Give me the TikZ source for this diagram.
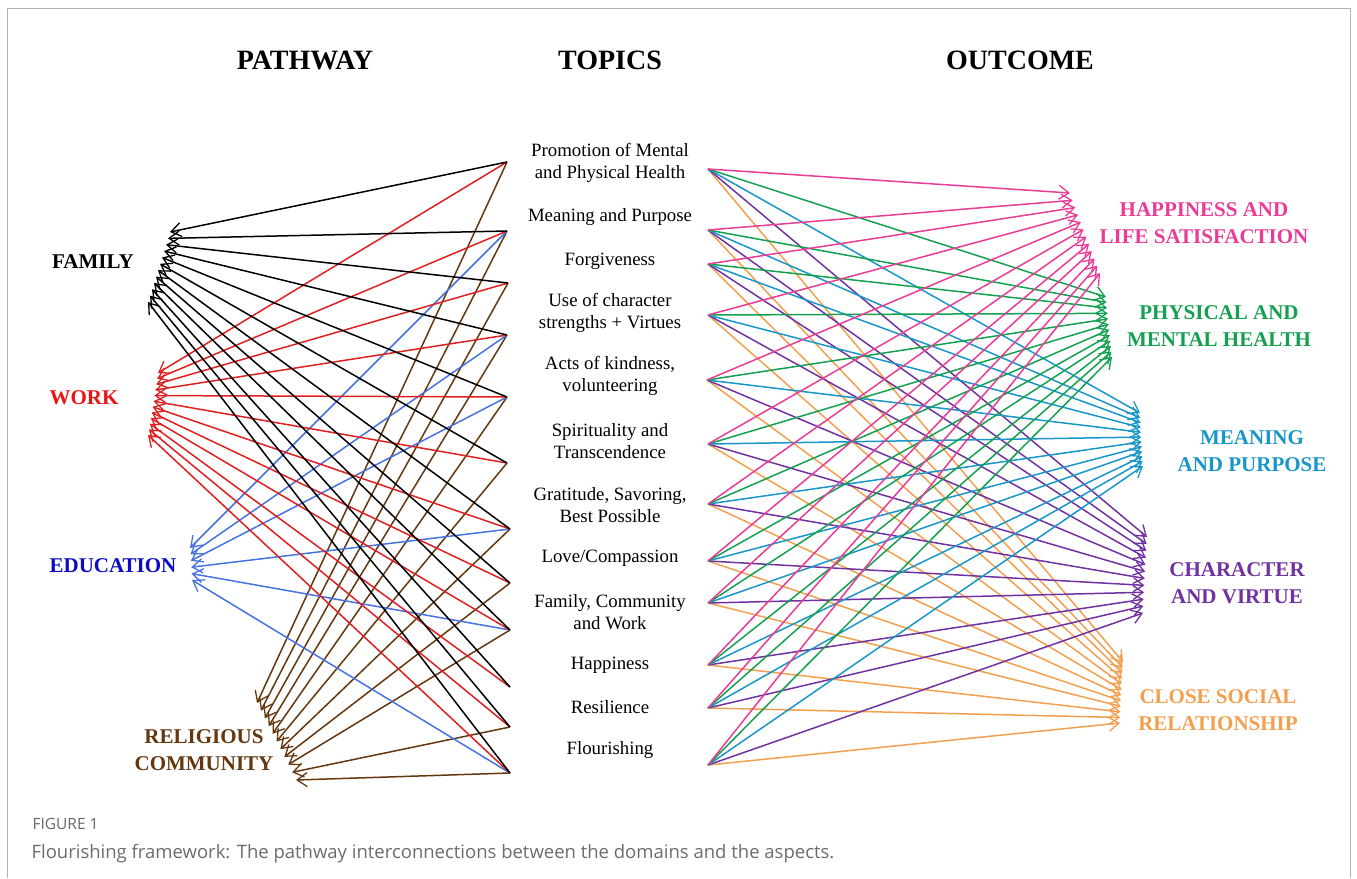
\documentclass[tikz,border=0pt]{standalone}
\usepackage{fontspec}
\setmainfont{Liberation Serif}
\newfontfamily\capfont{Open Sans}
\usetikzlibrary{arrows.meta}
\definecolor{cred}{RGB}{222,32,32}
\definecolor{cblue}{RGB}{70,115,225}
\definecolor{cbrown}{RGB}{100,55,15}
\definecolor{cpink}{RGB}{232,60,150}
\definecolor{cgreen}{RGB}{20,160,80}
\definecolor{cteal}{RGB}{25,150,200}
\definecolor{cpurple}{RGB}{112,50,160}
\definecolor{corange}{RGB}{242,160,80}
\definecolor{ledu}{RGB}{10,10,200}
\definecolor{lred}{RGB}{235,20,20}
\tikzset{
  arr/.style={line width=1.5pt,-{Straight Barb[length=10pt,width=14pt,line width=1.3pt]}},
  titlebox/.style={font=\fontsize{28}{32}\selectfont\bfseries},
  topic/.style={font=\fontsize{18.8}{22.5}\selectfont, align=center},
  lab/.style={font=\fontsize{21}{27}\selectfont\bfseries, align=center},
}
\begin{document}
\begin{tikzpicture}[x=1pt,y=-1pt]
\useasboundingbox (0,0) rectangle (1357,878);
\draw[gray!60, line width=1pt] (7,878) -- (7,8) -- (1350,8) -- (1350,878);

% titles
\node[titlebox] (hp) at (305,60) {PATHWAY};
\node[titlebox] (ht) at (610,60) {TOPICS};
\node[titlebox] (ho) at (1020,60) {OUTCOME};

% topics
\node[topic] (t1) at (610,163) {Promotion of Mental\\and Physical Health};
\node[topic] (t2) at (610,217) {Meaning and Purpose};
\node[topic] (t3) at (610,261) {Forgiveness};
\node[topic] (t4) at (610,313) {Use of character\\strengths + Virtues};
\node[topic] (t5) at (610,376) {Acts of kindness,\\volunteering};
\node[topic] (t6) at (610,441) {Spirituality and\\Transcendence};
\node[topic] (t7) at (610,505) {Gratitude, Savoring,\\Best Possible};
\node[topic] (t8) at (610,558) {Love/Compassion};
\node[topic] (t9) at (610,612) {Family, Community\\and Work};
\node[topic] (t10) at (610,665) {Happiness};
\node[topic] (t11) at (610,707) {Resilience};
\node[topic] (t12) at (610,750) {Flourishing};

% pathway labels
\node[lab] (fam) at (93,262) {FAMILY};
\node[lab, text=lred] (work) at (84,398) {WORK};
\node[lab, text=ledu] (edu) at (113,566) {EDUCATION};
\node[lab, text=cbrown] (rel) at (204,750) {RELIGIOUS\\COMMUNITY};

% outcome labels
\node[lab, text=cpink] (hap) at (1204,223) {HAPPINESS AND\\LIFE SATISFACTION};
\node[lab, text=cgreen] (phy) at (1219,326) {PHYSICAL AND\\MENTAL HEALTH};
\node[lab, text=cteal] (mea) at (1252,451) {MEANING\\AND PURPOSE};
\node[lab, text=cpurple] (cha) at (1237,583) {CHARACTER\\AND VIRTUE};
\node[lab, text=corange] (clo) at (1218,710) {CLOSE SOCIAL\\RELATIONSHIP};

% source points
\foreach \i/\x/\y in {1/507/162,2/507/231,3/508/283,4/507/335,5/507/397,6/507/463,7/510/529,8/510/583,9/510/630,10/510/687,11/510/727,12/510/773}
  \coordinate (L\i) at (\x,\y);
\foreach \i/\x/\y in {1/708/169,2/708/230,3/708/264,4/708/315,5/707/380,6/708/444,7/708/504,8/708/561,9/708/603,10/708/665,11/708/708,12/708/765}
  \coordinate (R\i) at (\x,\y);

% arrow tip points
\foreach \i in {1,...,12}{
  \coordinate (fa\i) at ({170-22*(\i-1)/11},{232+70*(\i-1)/11});
  \coordinate (wo\i) at ({158-10*(\i-1)/11},{373+62*(\i-1)/11});
  \coordinate (ha\i) at ({1070+30*(\i-1)/11},{193+80*(\i-1)/11});
  \coordinate (ph\i) at ({1106+6*(\i-1)/11},{297+60*(\i-1)/11});
  \coordinate (me\i) at ({1140+3*(\i-1)/11},{413+53*(\i-1)/11});
  \coordinate (ch\i) at ({1147-4*(\i-1)/11},{537+76*(\i-1)/11});
  \coordinate (cl\i) at ({1123-3*(\i-1)/11},{662+61*(\i-1)/11});
}
\foreach \k in {1,...,6}
  \coordinate (ed\k) at ({190+2*(\k-1)/5},{548+32*(\k-1)/5});
\foreach \k in {1,...,11}
  \coordinate (re\k) at ({257+39*(\k-1)/10},{703+77*(\k-1)/10});

% left connectors
\foreach \s [count=\k] in {1,2,3,4,5,6,7,8,9,11,12}
  \draw[arr, cbrown] (L\s) -- (re\k);
\foreach \s [count=\k] in {2,4,5,7,9,12}
  \draw[arr, cblue] (L\s) -- (ed\k);
\foreach \i in {1,...,12}{
  \draw[arr, cred] (L\i) -- (wo\i);
  \draw[arr, black] (L\i) -- (fa\i);
}

% right connectors
\foreach \i in {1,...,12}{
  \draw[arr, corange] (R\i) -- (cl\i);
  \draw[arr, cpurple] (R\i) -- (ch\i);
  \draw[arr, cteal] (R\i) -- (me\i);
  \draw[arr, cgreen] (R\i) -- (ph\i);
  \draw[arr, cpink] (R\i) -- (ha\i);
}

% caption
\node[anchor=base west, font=\capfont\fontsize{15.5}{18}\selectfont, text=gray!80!black] (fig) at (29,829) {FIGURE 1};
\node[anchor=base west, font=\capfont\fontsize{18.5}{22}\selectfont, text=gray!85!black] (cap) at (28,858) {Flourishing framework: The pathway interconnections between the domains and the aspects.};
\end{tikzpicture}
\end{document}
